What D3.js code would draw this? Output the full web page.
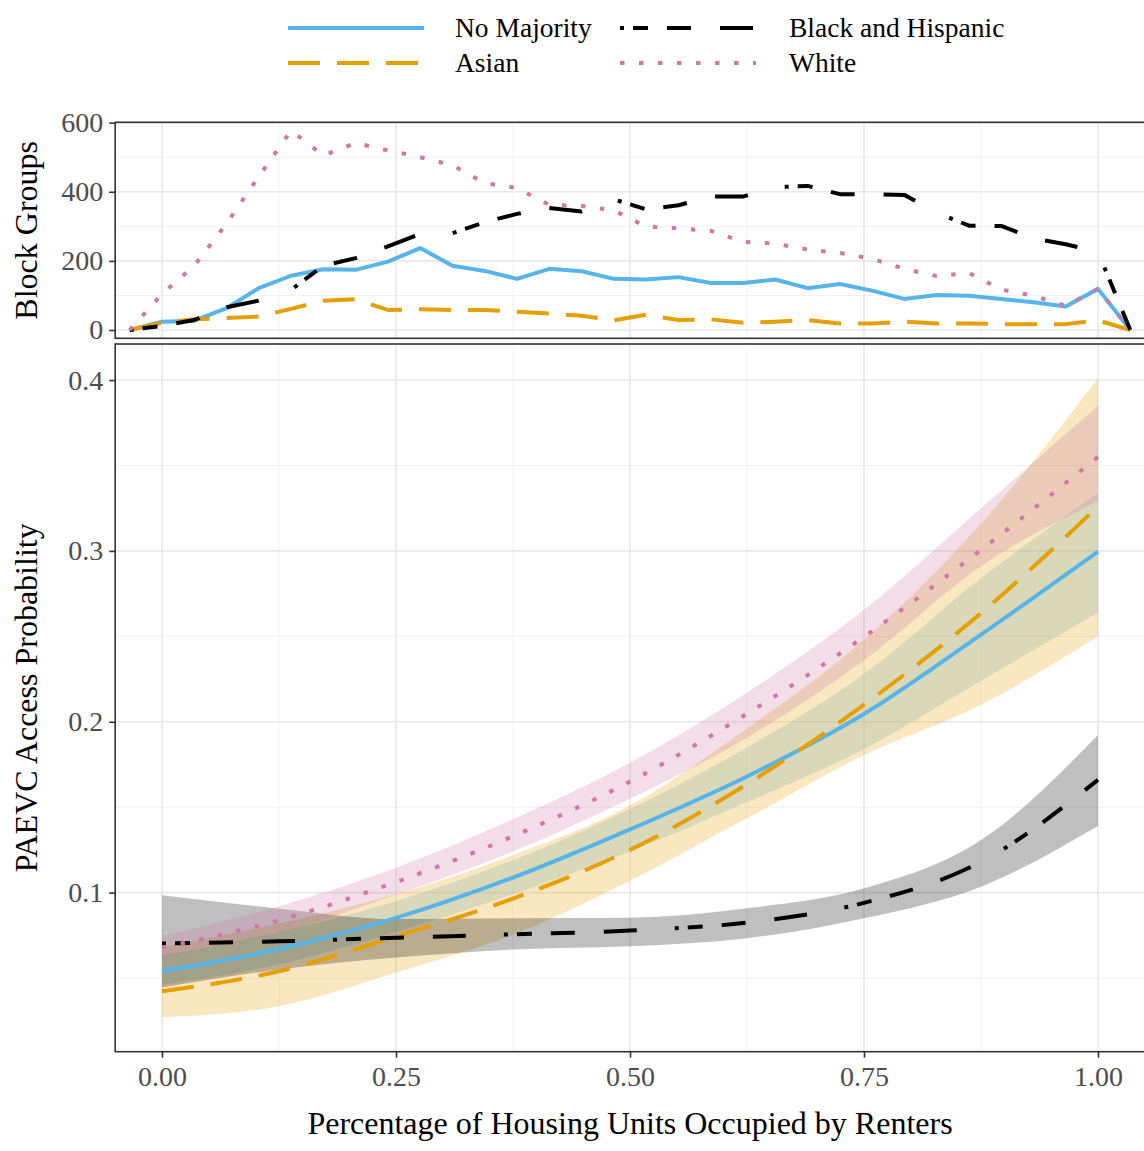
<!doctype html>
<html>
<head>
<meta charset="utf-8" />
<title>PAEVC access by renter share</title>
<style>
  body { margin: 0; background: #fff; }
  svg text { font-family: "Liberation Serif", "Times New Roman", serif; }
  .grid-major { stroke: #e8e8e8; stroke-width: 1.6; }
  .grid-minor { stroke: #f1f1f1; stroke-width: 1; }
  .border { fill: none; stroke: #333; stroke-width: 1.6; }
  .tick line { stroke: #333; stroke-width: 1.6; }
  .tick text { fill: #4d4d4d; font-size: 28px; }
</style>
</head>
<body>
<div id="chart"></div>
<script src="https://cdn.jsdelivr.net/npm/d3@7/dist/d3.min.js"></script>
<script>
// ---- top panel: block group counts (frequency polygon, bin centres) ----
var binCenters = [-0.0345, 0, 0.0345, 0.069, 0.1034, 0.1379, 0.1724, 0.2069, 0.2414, 0.2759,
  0.3103, 0.3448, 0.3793, 0.4138, 0.4483, 0.4828, 0.5172, 0.5517, 0.5862, 0.6207, 0.6552,
  0.6897, 0.7241, 0.7586, 0.7931, 0.8276, 0.8621, 0.8966, 0.931, 0.9655, 1, 1.0345];

var countNoMajority = [0, 24, 27, 63, 121, 157, 176, 174, 198, 237, 186, 171, 148, 177, 170, 148,
  146, 153, 136, 136, 146, 121, 133, 114, 90, 101, 99, 90, 80, 68, 119, 0];
var countAsian = [0, 21, 31, 35, 39, 61, 85, 89, 58, 60, 58, 58, 53, 48, 41, 28,
  44, 29, 31, 21, 24, 29, 19, 19, 24, 19, 19, 17, 17, 17, 28, 0];
var countBlackHisp = [0, 12, 29, 66, 85, 116, 186, 208, 242, 278, 280, 312, 336, 353, 343, 378,
  349, 361, 386, 386, 413, 417, 393, 393, 391, 340, 302, 301, 265, 248, 226, 0];
var countWhite = [0, 104, 186, 308, 444, 577, 505, 541, 520, 500, 477, 425, 411, 362, 359, 346,
  299, 294, 287, 255, 250, 233, 223, 206, 177, 156, 165, 117, 99, 70, 119, 0];

// ---- bottom panel: predicted probability with 95% band ----
var renterShare = [0, 0.125, 0.25, 0.375, 0.5, 0.625, 0.75, 0.875, 1];

var fitNoMajority = [0.054, 0.067, 0.0852, 0.1088, 0.137, 0.168, 0.2045, 0.251, 0.2996];
var loNoMajority  = [0.046, 0.058, 0.077, 0.099, 0.124, 0.153, 0.184, 0.224, 0.264];
var hiNoMajority  = [0.063, 0.077, 0.095, 0.119, 0.149, 0.185, 0.228, 0.284, 0.334];

var fitAsian = [0.0423, 0.054, 0.0743, 0.0965, 0.125, 0.1635, 0.21, 0.2636, 0.326];
var loAsian  = [0.027, 0.0335, 0.0532, 0.0754, 0.107, 0.1435, 0.1805, 0.21, 0.25];
var hiAsian  = [0.068, 0.082, 0.099, 0.122, 0.151, 0.196, 0.248, 0.316, 0.401];

var fitBlackHisp = [0.0702, 0.0715, 0.0736, 0.0756, 0.0778, 0.0825, 0.094, 0.118, 0.166];
var loBlackHisp  = [0.0445, 0.055, 0.062, 0.0667, 0.0686, 0.0733, 0.085, 0.1035, 0.139];
var hiBlackHisp  = [0.0984, 0.0906, 0.0845, 0.085, 0.0853, 0.0908, 0.1025, 0.1308, 0.1922];

var fitWhite = [0.0678, 0.0838, 0.1062, 0.133, 0.165, 0.2047, 0.2497, 0.3006, 0.355];
var loWhite  = [0.062, 0.0766, 0.0988, 0.124, 0.155, 0.1906, 0.236, 0.291, 0.329];
var hiWhite  = [0.0743, 0.092, 0.1146, 0.143, 0.176, 0.217, 0.2655, 0.325, 0.385];

var xTicks = [0, 0.25, 0.5, 0.75, 1];
var xTickLabels = ["0.00", "0.25", "0.50", "0.75", "1.00"];
var countTicks = [0, 200, 400, 600];
var probTicks = [0.1, 0.2, 0.3, 0.4];
var probTickLabels = ["0.1", "0.2", "0.3", "0.4"];

var groups = [
  { name: "No Majority", color: "#56B4E9", dash: null,
    counts: countNoMajority, fit: fitNoMajority, lo: loNoMajority, hi: hiNoMajority },
  { name: "Asian", color: "#E69F00", dash: "32,17",
    counts: countAsian, fit: fitAsian, lo: loAsian, hi: hiAsian },
  { name: "Black and Hispanic", color: "#000000", dash: "4,9,15,19,24,29,33,38",
    counts: countBlackHisp, fit: fitBlackHisp, lo: loBlackHisp, hi: hiBlackHisp },
  { name: "White", color: "#CC79A7", dash: "4.5,14.5",
    counts: countWhite, fit: fitWhite, lo: loWhite, hi: hiWhite }
];

var W = 1144, H = 1151;
var svg = d3.select("#chart").append("svg").attr("width", W).attr("height", H);
svg.append("rect").attr("width", W).attr("height", H).attr("fill", "#fff");

var x = d3.scaleLinear().domain([-0.05, 1.05]).range([115.2, 1144.8]);
var yTop = d3.scaleLinear().domain([-24, 601]).range([338.3, 122.3]);
var yBot = d3.scaleLinear().domain([0.0069, 0.4211]).range([1051.7, 344]);

function grid(g, yScale, majors, minors, y0, y1) {
  var xMinor = [0.125, 0.375, 0.625, 0.875];
  g.selectAll(".hmin").data(minors).enter().append("line").attr("class", "grid-minor")
    .attr("x1", x.range()[0]).attr("x2", x.range()[1])
    .attr("y1", function(d) { return yScale(d); }).attr("y2", function(d) { return yScale(d); });
  g.selectAll(".vmin").data(xMinor).enter().append("line").attr("class", "grid-minor")
    .attr("x1", function(d) { return x(d); }).attr("x2", function(d) { return x(d); })
    .attr("y1", y0).attr("y2", y1);
  g.selectAll(".hmaj").data(majors).enter().append("line").attr("class", "grid-major")
    .attr("x1", x.range()[0]).attr("x2", x.range()[1])
    .attr("y1", function(d) { return yScale(d); }).attr("y2", function(d) { return yScale(d); });
  g.selectAll(".vmaj").data(xTicks).enter().append("line").attr("class", "grid-major")
    .attr("x1", function(d) { return x(d); }).attr("x2", function(d) { return x(d); })
    .attr("y1", y0).attr("y2", y1);
}

// ---------- top panel ----------
var topPanel = svg.append("g");
grid(topPanel, yTop, countTicks, [100, 300, 500], yTop.range()[1], yTop.range()[0]);

var countLine = d3.line()
  .x(function(d, i) { return x(binCenters[i]); })
  .y(function(d) { return yTop(d); });

groups.forEach(function(g) {
  topPanel.append("path").attr("d", countLine(g.counts))
    .attr("fill", "none").attr("stroke", g.color).attr("stroke-width", 4)
    .attr("stroke-dasharray", g.dash).attr("stroke-linejoin", "round");
});

topPanel.append("rect").attr("class", "border")
  .attr("x", x.range()[0]).attr("y", yTop.range()[1])
  .attr("width", x.range()[1] - x.range()[0]).attr("height", yTop.range()[0] - yTop.range()[1]);

topPanel.append("g").attr("transform", "translate(" + x.range()[0] + ",0)")
  .call(d3.axisLeft(yTop).tickValues(countTicks).tickSize(6).tickPadding(6))
  .call(function(a) { a.select(".domain").remove(); });

// ---------- bottom panel ----------
var botPanel = svg.append("g");
grid(botPanel, yBot, probTicks, [0.05, 0.15, 0.25, 0.35], yBot.range()[1], yBot.range()[0]);

var band = d3.area()
  .x(function(d) { return x(d.x); })
  .y0(function(d) { return yBot(d.lo); })
  .y1(function(d) { return yBot(d.hi); })
  .curve(d3.curveMonotoneX);
var fitLine = d3.line()
  .x(function(d) { return x(d.x); })
  .y(function(d) { return yBot(d.fit); })
  .curve(d3.curveMonotoneX);

function rows(g) {
  return renterShare.map(function(v, i) {
    return { x: v, fit: g.fit[i], lo: g.lo[i], hi: g.hi[i] };
  });
}

groups.forEach(function(g) {
  botPanel.append("path").attr("d", band(rows(g)))
    .attr("fill", g.color).attr("fill-opacity", 0.25);
});
groups.forEach(function(g) {
  botPanel.append("path").attr("d", fitLine(rows(g)))
    .attr("fill", "none").attr("stroke", g.color).attr("stroke-width", 4)
    .attr("stroke-dasharray", g.dash);
});

botPanel.append("rect").attr("class", "border")
  .attr("x", x.range()[0]).attr("y", yBot.range()[1])
  .attr("width", x.range()[1] - x.range()[0]).attr("height", yBot.range()[0] - yBot.range()[1]);

botPanel.append("g").attr("transform", "translate(" + x.range()[0] + ",0)")
  .call(d3.axisLeft(yBot).tickValues(probTicks)
    .tickFormat(function(d, i) { return probTickLabels[i]; }).tickSize(6).tickPadding(6))
  .call(function(a) { a.select(".domain").remove(); });

botPanel.append("g").attr("transform", "translate(0," + yBot.range()[0] + ")")
  .call(d3.axisBottom(x).tickValues(xTicks)
    .tickFormat(function(d, i) { return xTickLabels[i]; }).tickSize(6).tickPadding(8))
  .call(function(a) { a.select(".domain").remove(); });

// ---------- axis titles ----------
svg.append("text").attr("x", 630).attr("y", 1134).attr("text-anchor", "middle")
  .attr("font-size", 32).text("Percentage of Housing Units Occupied by Renters");
svg.append("text").attr("transform", "translate(37," + (yBot.range()[0] + yBot.range()[1]) / 2 + ") rotate(-90)")
  .attr("text-anchor", "middle").attr("font-size", 32).text("PAEVC Access Probability");
svg.append("text").attr("transform", "translate(37," + (yTop.range()[0] + yTop.range()[1]) / 2 + ") rotate(-90)")
  .attr("text-anchor", "middle").attr("font-size", 32).text("Block Groups");

// ---------- legend ----------
var legendPos = [
  { kx: 288, tx: 455, y: 28 },
  { kx: 288, tx: 455, y: 63 },
  { kx: 620, tx: 789, y: 28 },
  { kx: 620, tx: 789, y: 63 }
];
var leg = svg.append("g");
groups.forEach(function(g, i) {
  var p = legendPos[i];
  leg.append("line").attr("x1", p.kx).attr("x2", p.kx + 136)
    .attr("y1", p.y).attr("y2", p.y)
    .attr("stroke", g.color).attr("stroke-width", 4).attr("stroke-dasharray", g.dash);
  leg.append("text").attr("x", p.tx).attr("y", p.y + 9).attr("font-size", 27.5)
    .attr("fill", "#000").text(g.name);
});
</script>
</body>
</html>
